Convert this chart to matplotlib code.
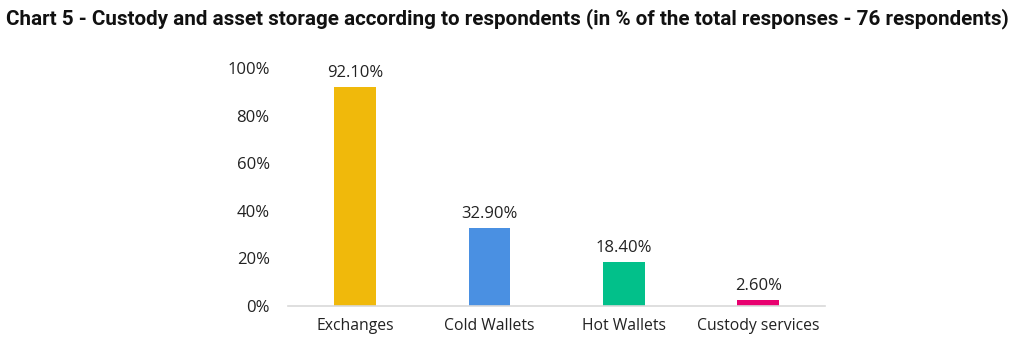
import matplotlib.pyplot as plt
from matplotlib import font_manager

categories = ["Exchanges", "Cold Wallets", "Hot Wallets", "Custody services"]
values = [92.1, 32.9, 18.4, 2.6]
colors = ["#F0B90B", "#4A90E2", "#02C08A", "#E8006F"]
yticks = [0, 20, 40, 60, 80, 100]

names = {f.name for f in font_manager.fontManager.ttflist}
title_font = "Liberation Sans Narrow" if "Liberation Sans Narrow" in names else "Roboto"

plt.rcParams['font.family'] = ['Open Sans', 'DejaVu Sans']

fig = plt.figure(figsize=(10.24, 3.43), dpi=100)
ax = fig.add_axes([0.281, 0.108, 0.525, 0.694])

x = list(range(len(categories)))
ax.bar(x, values, width=0.31, color=colors)
for xi, v in zip(x, values):
    ax.text(xi, v + 2.5, f"{v:.2f}%", ha="center", va="bottom", fontsize=12, color="#222222")

ax.set_xlim(-0.5, len(categories) - 0.5)
ax.set_ylim(0, 100)
ax.set_yticks(yticks)
ax.set_yticklabels([f"{t}%" for t in yticks])
ax.set_xticks(x)
ax.set_xticklabels(categories)
ax.tick_params(axis="both", length=0, colors="#222222")
ax.tick_params(axis="y", pad=13, labelsize=12)
ax.tick_params(axis="x", pad=9, labelsize=11.3)
for s in ["top", "right", "left"]:
    ax.spines[s].set_visible(False)
ax.spines["bottom"].set_color("#d9d9d9")
ax.spines["bottom"].set_linewidth(1.2)

fig.text(0.006, 0.945, "Chart 5 - Custody and asset storage according to respondents (in % of the total responses - 76 respondents)",
         ha="left", va="center", fontsize=14.9, fontweight="bold", family=[title_font, 'DejaVu Sans'], color="#111111")

fig.savefig("out.png", dpi=100)
